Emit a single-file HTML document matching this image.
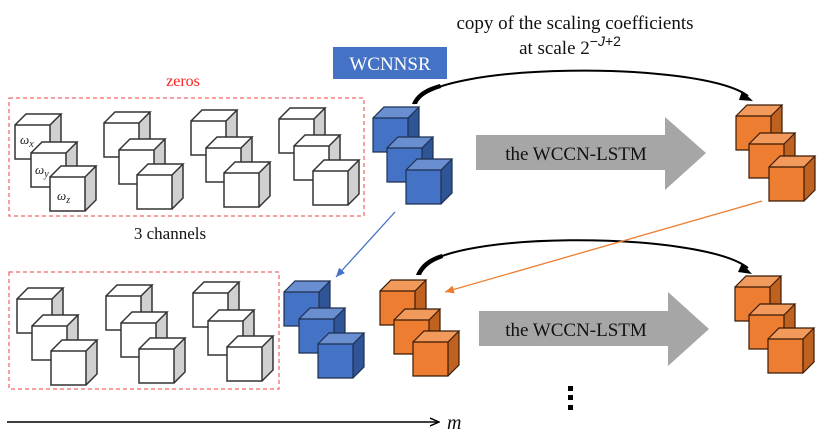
<!DOCTYPE html>
<html><head><meta charset="utf-8"><style>body{margin:0;background:#fff}svg{display:block}</style></head>
<body>
<svg width="830" height="444" viewBox="0 0 830 444" xmlns="http://www.w3.org/2000/svg" font-family="'Liberation Serif', serif">
<defs>
<g id="w"><rect x="0" y="0" width="35" height="34" fill="#fff"/><polygon points="0,0 11,-11 46,-11 35,0" fill="#fff"/><polygon points="35,0 46,-11 46,23 35,34" fill="#d0d0d0"/><path d="M0,0 H35 V34 H0 Z M0,0 L11,-11 H46 L35,0 M46,-11 V23 L35,34" fill="none" stroke="#333" stroke-width="1.5"/></g>
<g id="b"><rect x="0" y="0" width="35" height="34" fill="#4472c4"/><polygon points="0,0 11,-11 46,-11 35,0" fill="#6a8fd0"/><polygon points="35,0 46,-11 46,23 35,34" fill="#2f5597"/><path d="M0,0 H35 V34 H0 Z M0,0 L11,-11 H46 L35,0 M46,-11 V23 L35,34" fill="none" stroke="#1f2f50" stroke-width="1.2"/></g>
<g id="o"><rect x="0" y="0" width="35" height="34" fill="#ed7d31"/><polygon points="0,0 11,-11 46,-11 35,0" fill="#f19a5c"/><polygon points="35,0 46,-11 46,23 35,34" fill="#c0621f"/><path d="M0,0 H35 V34 H0 Z M0,0 L11,-11 H46 L35,0 M46,-11 V23 L35,34" fill="none" stroke="#3a1a05" stroke-width="1.2"/></g>
<marker id="ah" markerWidth="10" markerHeight="10" refX="9" refY="5" orient="auto" markerUnits="userSpaceOnUse"><path d="M0,1 L9,5 L0,9" fill="none" stroke="#000" stroke-width="1.5"/></marker>
<marker id="ao" markerWidth="10" markerHeight="10" refX="9" refY="5" orient="auto" markerUnits="userSpaceOnUse"><path d="M0,1 L9,5 L0,9 Z" fill="#ed7d31"/></marker>
<marker id="ab" markerWidth="10" markerHeight="10" refX="9" refY="5" orient="auto" markerUnits="userSpaceOnUse"><path d="M0,1 L9,5 L0,9 Z" fill="#4472c4"/></marker>
</defs>

<!-- title -->
<text x="575" y="29" font-size="19" text-anchor="middle" fill="#111">copy of the scaling coefficients</text>
<text x="570" y="54" font-size="19" text-anchor="middle" fill="#111">at scale 2<tspan font-family="'Liberation Sans', sans-serif" font-size="14" dy="-8">−<tspan font-style="italic">J</tspan>+2</tspan></text>

<rect x="333" y="47" width="114" height="32" fill="#4472c4"/>
<text x="390" y="70" font-size="19" text-anchor="middle" fill="#fff">WCNNSR</text>

<text x="183" y="86" font-size="16" text-anchor="middle" fill="#ff2020">zeros</text>
<rect x="9" y="98" width="355" height="118" fill="none" stroke="#f04040" stroke-width="1" stroke-dasharray="4,3"/>
<text x="170" y="239" font-size="17" text-anchor="middle" fill="#111">3 channels</text>

<!-- top white cubes -->
<use href="#w" x="15" y="125"/><use href="#w" x="31" y="153"/><use href="#w" x="50" y="177"/>
<text x="20" y="144" font-size="13" font-style="italic" fill="#222">ω<tspan font-size="10" dy="3">x</tspan></text>
<text x="35" y="174" font-size="13" font-style="italic" fill="#222">ω<tspan font-size="10" dy="3">y</tspan></text>
<text x="57" y="200" font-size="13" font-style="italic" fill="#222">ω<tspan font-size="10" dy="3">z</tspan></text>
<use href="#w" x="104" y="123"/><use href="#w" x="119" y="150"/><use href="#w" x="137" y="175"/>
<use href="#w" x="191" y="121"/><use href="#w" x="206" y="148"/><use href="#w" x="224" y="173"/>
<use href="#w" x="279" y="119"/><use href="#w" x="294" y="146"/><use href="#w" x="313" y="171"/>

<use href="#b" x="373" y="118"/><use href="#b" x="387" y="148"/><use href="#b" x="406" y="170"/>
<use href="#o" x="736" y="116"/><use href="#o" x="749" y="144"/><use href="#o" x="769" y="167"/>

<!-- top gray arrow -->
<polygon points="476,135 665,135 665,117 706,153 665,190 665,170 476,170" fill="#a6a6a6"/>
<text x="576" y="160" font-size="19" text-anchor="middle" fill="#111">the WCCN-LSTM</text>

<!-- top curve -->
<path d="M414,104 C430,62 700,60 748,96" fill="none" stroke="#000" stroke-width="2"/>
<path d="M412,104 C416,94 425,88 440,84 L441,88 C428,92 420,97 417,104 Z" fill="#000"/>
<polygon points="742,91 753,101 739,100" fill="#000"/>

<!-- bottom -->
<rect x="9" y="272" width="270" height="117" fill="none" stroke="#f04040" stroke-width="1" stroke-dasharray="4,3"/>
<use href="#w" x="17" y="299"/><use href="#w" x="32" y="326"/><use href="#w" x="51" y="351"/>
<use href="#w" x="106" y="296"/><use href="#w" x="121" y="323"/><use href="#w" x="139" y="349"/>
<use href="#w" x="193" y="293"/><use href="#w" x="208" y="321"/><use href="#w" x="227" y="347"/>
<use href="#b" x="284" y="292"/><use href="#b" x="299" y="319"/><use href="#b" x="318" y="344"/>
<use href="#o" x="380" y="291"/><use href="#o" x="394" y="320"/><use href="#o" x="413" y="342"/>
<use href="#o" x="735" y="287"/><use href="#o" x="749" y="315"/><use href="#o" x="768" y="339"/>

<polygon points="479,311 668,311 668,292 709,329 668,366 668,346 479,346" fill="#a6a6a6"/>
<text x="576" y="336" font-size="19" text-anchor="middle" fill="#111">the WCCN-LSTM</text>

<path d="M418,274 C430,230 700,230 748,268" fill="none" stroke="#000" stroke-width="2"/>
<path d="M416,275 C420,265 428,258 442,254 L443,258 C431,262 424,268 421,275 Z" fill="#000"/>
<polygon points="742,263 752,274 738,272" fill="#000"/>

<!-- connectors -->
<line x1="395" y1="212" x2="336" y2="277" stroke="#4472c4" stroke-width="1.3" marker-end="url(#ab)"/>
<line x1="762" y1="201" x2="445" y2="292" stroke="#ed7d31" stroke-width="1.3" marker-end="url(#ao)"/>

<!-- dots -->
<rect x="568" y="386" width="5" height="5" fill="#000"/>
<rect x="568" y="395" width="5" height="5" fill="#000"/>
<rect x="568" y="405" width="5" height="5" fill="#000"/>

<!-- axis -->
<line x1="7" y1="422" x2="439" y2="422" stroke="#000" stroke-width="1.5" marker-end="url(#ah)"/>
<text x="447" y="429" font-size="20" font-style="italic" fill="#111">m</text>
</svg>
</body></html>
